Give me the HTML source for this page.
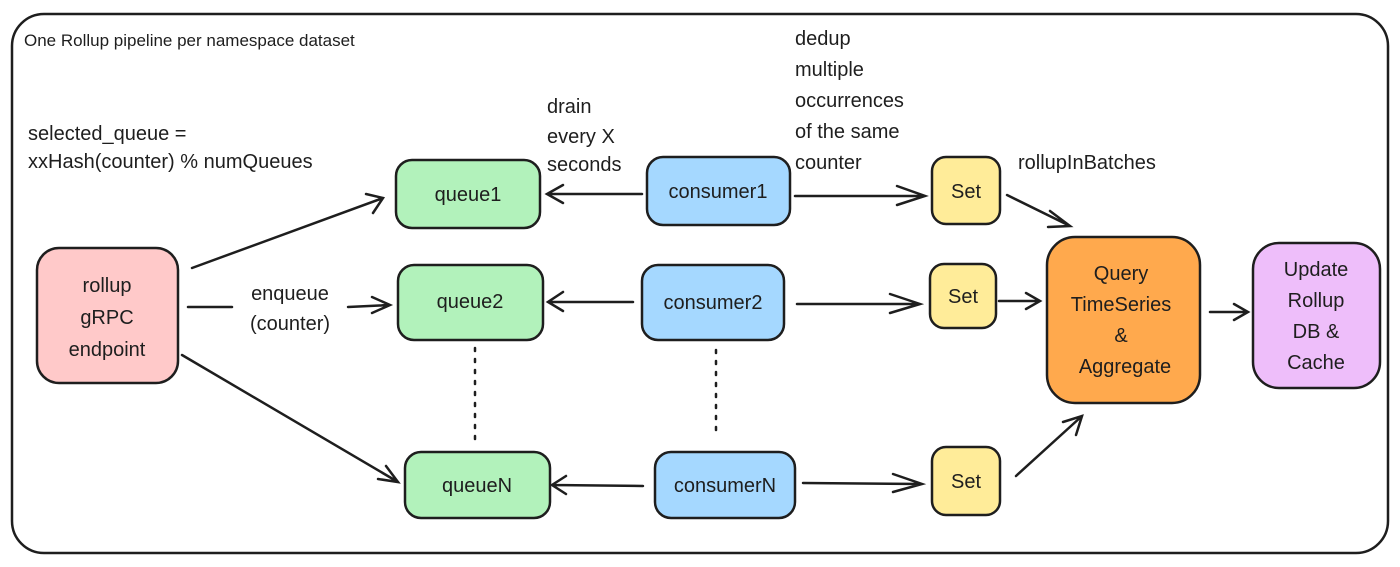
<!DOCTYPE html>
<html><head><meta charset="utf-8"><style>
html,body{margin:0;padding:0;background:#fff;}
svg{display:block;font-family:"Liberation Sans",sans-serif;}
.b{stroke:#1e1e1e;stroke-width:2.5;}
.t{font-size:20px;fill:#1e1e1e;text-anchor:middle;}
.a{font-size:20px;fill:#1e1e1e;}
.l{stroke:#1e1e1e;stroke-width:2.5;fill:none;stroke-linecap:round;}
</style></head><body>
<svg width="1400" height="567" viewBox="0 0 1400 567">
<rect x="12" y="14" width="1376" height="539" rx="32" fill="#fff" class="b" stroke-width="2"/>
<text x="24" y="46" class="a" style="font-size:17px">One Rollup pipeline per namespace dataset</text>
<text x="28" y="140" class="a">selected_queue =</text>
<text x="28" y="168" class="a">xxHash(counter) % numQueues</text>
<text x="547" y="113" class="a">drain</text>
<text x="547" y="143" class="a">every X</text>
<text x="547" y="171" class="a">seconds</text>
<text x="795" y="45" class="a">dedup</text>
<text x="795" y="76" class="a">multiple</text>
<text x="795" y="107" class="a">occurrences</text>
<text x="795" y="138" class="a">of the same</text>
<text x="795" y="169" class="a">counter</text>
<text x="1018" y="169" class="a">rollupInBatches</text>
<text x="290" y="300" class="t">enqueue</text>
<text x="290" y="330" class="t">(counter)</text>

<rect x="37" y="248" width="141" height="135" rx="22" fill="#ffc9c9" class="b"/>
<text x="107" y="292" class="t">rollup</text>
<text x="107" y="324" class="t">gRPC</text>
<text x="107" y="356" class="t">endpoint</text>

<rect x="396" y="160" width="144" height="68" rx="16" fill="#b2f2bb" class="b"/>
<text x="468" y="201" class="t">queue1</text>
<rect x="398" y="265" width="145" height="75" rx="16" fill="#b2f2bb" class="b"/>
<text x="470" y="308" class="t">queue2</text>
<rect x="405" y="452" width="145" height="66" rx="16" fill="#b2f2bb" class="b"/>
<text x="477" y="492" class="t">queueN</text>

<rect x="647" y="157" width="143" height="68" rx="16" fill="#a5d8ff" class="b"/>
<text x="718" y="198" class="t">consumer1</text>
<rect x="642" y="265" width="142" height="75" rx="16" fill="#a5d8ff" class="b"/>
<text x="713" y="309" class="t">consumer2</text>
<rect x="655" y="452" width="140" height="66" rx="16" fill="#a5d8ff" class="b"/>
<text x="725" y="492" class="t">consumerN</text>

<rect x="932" y="157" width="68" height="67" rx="14" fill="#ffec99" class="b"/>
<text x="966" y="198" class="t">Set</text>
<rect x="930" y="264" width="66" height="64" rx="14" fill="#ffec99" class="b"/>
<text x="963" y="303" class="t">Set</text>
<rect x="932" y="447" width="68" height="68" rx="14" fill="#ffec99" class="b"/>
<text x="966" y="488" class="t">Set</text>

<rect x="1047" y="237" width="153" height="166" rx="28" fill="#ffa94d" class="b"/>
<text x="1121" y="280" class="t">Query</text>
<text x="1121" y="311" class="t">TimeSeries</text>
<text x="1121" y="342" class="t">&amp;</text>
<text x="1125" y="373" class="t">Aggregate</text>

<rect x="1253" y="243" width="127" height="145" rx="26" fill="#eebefa" class="b"/>
<text x="1316" y="276" class="t">Update</text>
<text x="1316" y="307" class="t">Rollup</text>
<text x="1316" y="338" class="t">DB &amp;</text>
<text x="1316" y="369" class="t">Cache</text>

<!-- arrows -->
<path class="l" d="M192 268 L383 198 M366 194 L383 198 L373 213"/>
<path class="l" d="M188 307 L232 307 M348 307 L390 305 M372 297 L390 305 L372 313"/>
<path class="l" d="M182 355 L398 482 M386 466 L398 482 L378 479" stroke-width="2"/>
<path class="l" d="M642 194 L547 194 M563 185 L547 194 L563 203"/>
<path class="l" d="M633 302 L548 302 M563 292 L548 302 L563 311"/>
<path class="l" d="M643 486 L552 485 M566 476 L552 485 L566 494" stroke-width="2"/>
<path class="l" d="M795 196 L925 196 M897 186 L925 196 L897 205"/>
<path class="l" d="M797 304 L920 304 M890 294 L920 304 L890 313"/>
<path class="l" d="M803 483 L922 484 M893 474 L922 484 L893 492"/>
<path class="l" d="M1007 195 L1070 226 M1050 211 L1070 226 L1048 227" stroke-width="2"/>
<path class="l" d="M999 301 L1040 301 M1026 293 L1040 301 L1026 309"/>
<path class="l" d="M1016 476 L1082 416 M1063 422 L1082 416 L1076 435"/>
<path class="l" d="M1210 312 L1248 312 M1234 304 L1248 312 L1234 320" stroke-width="2"/>
<path class="l" stroke-dasharray="3 8" d="M475 348 L475 440 M716 350 L716 438"/>
</svg>
</body></html>
